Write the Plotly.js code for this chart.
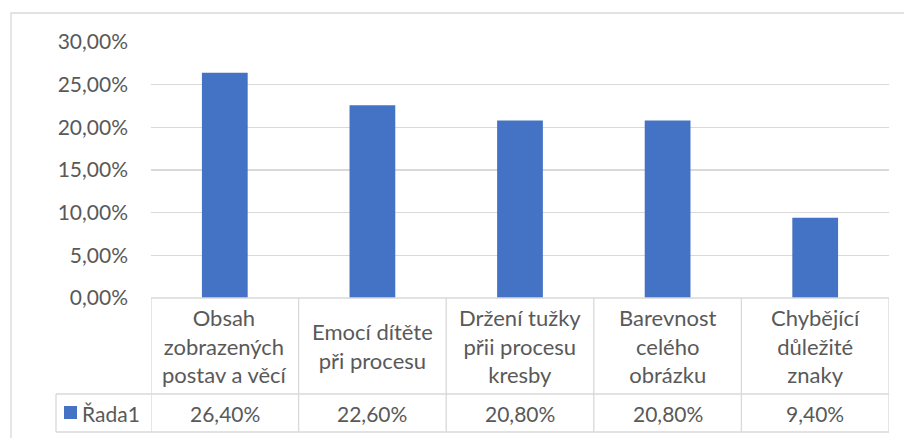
<!DOCTYPE html>
<html>
<head>
<meta charset="utf-8">
<script src="https://cdn.plot.ly/plotly-3.0.1.min.js"></script>
<style>html,body{margin:0;padding:0;background:#fff;}#chart{width:904px;height:438px;}</style>
</head>
<body>
<div id="chart"></div>
<script>
const categories = [
  "Obsah<br>zobrazených<br>postav a věcí",
  "Emocí dítěte<br>při procesu",
  "Držení tužky<br>přii procesu<br>kresby",
  "Barevnost<br>celého<br>obrázku",
  "Chybějící<br>důležité<br>znaky"
];
const seriesName = "Řada1";
const values = [0.264, 0.226, 0.208, 0.208, 0.094];
const yTicks = [0, 0.05, 0.10, 0.15, 0.20, 0.25, 0.30];

const fmt = v => (v * 100).toFixed(2).replace('.', ',') + '%';
const idx = categories.map((_, i) => i);

const W = 904, H = 438;
const mL = 151, mR = 15, mT = 42, mB = 140;
const pw = W - mL - mR, ph = H - mT - mB;
const px = x => (x - mL) / pw;          // pixel x -> paper
const py = y => (H - mB - y) / ph;      // pixel y -> paper

const lineCol = '#d9d9d9';
const textCol = '#595959';
const fontFam = 'Lato, "Open Sans", sans-serif';

const yHeaderBottom = py(394);
const yTableBottom = py(432);

const shapes = [];
shapes.push({type:'rect', xref:'paper', yref:'paper', x0:px(11), x1:px(910), y0:py(445), y1:py(13), line:{color:lineCol, width:1.3}, fillcolor:'rgba(0,0,0,0)', layer:'below'});
for (let i = 0; i <= categories.length; i++) {
  shapes.push({type:'line', xref:'x', yref:'paper', x0:i-0.5, x1:i-0.5, y0:0, y1:yTableBottom, line:{color:lineCol, width:1.3}});
}
shapes.push({type:'line', xref:'paper', yref:'paper', x0:0, x1:1, y0:0, y1:0, line:{color:lineCol, width:1.3}});
shapes.push({type:'line', xref:'paper', yref:'paper', x0:px(56), x1:1, y0:yHeaderBottom, y1:yHeaderBottom, line:{color:lineCol, width:1.3}});
shapes.push({type:'line', xref:'paper', yref:'paper', x0:px(56), x1:1, y0:yTableBottom, y1:yTableBottom, line:{color:lineCol, width:1.3}});
shapes.push({type:'line', xref:'paper', yref:'paper', x0:px(56), x1:px(56), y0:yHeaderBottom, y1:yTableBottom, line:{color:lineCol, width:1.3}});
shapes.push({type:'rect', xref:'paper', yref:'paper', x0:px(64), x1:px(77), y0:py(419), y1:py(406), line:{width:0}, fillcolor:'#4472C4'});

const annotations = [];
categories.forEach((c, i) => {
  annotations.push({xref:'x', yref:'paper', x:i, y:(0 + yHeaderBottom)/2, text:c, showarrow:false, xanchor:'center', yanchor:'middle', align:'center', font:{family:fontFam, size:22, color:textCol}});
  annotations.push({xref:'x', yref:'paper', x:i, y:(yHeaderBottom + yTableBottom)/2, text:fmt(values[i]), showarrow:false, xanchor:'center', yanchor:'middle', font:{family:fontFam, size:21, color:textCol}});
});
annotations.push({xref:'paper', yref:'paper', x:px(80), y:(yHeaderBottom + yTableBottom)/2, text:seriesName, showarrow:false, xanchor:'left', yanchor:'middle', font:{family:fontFam, size:21, color:textCol}});

const trace = {
  type:'bar', x: idx, y: values, name: seriesName,
  marker:{color:'#4472C4'}, hoverinfo:'none'
};

const layout = {
  width: W, height: H,
  margin:{l:mL, r:mR, t:mT, b:mB, pad:0},
  paper_bgcolor:'#fff', plot_bgcolor:'#fff',
  separators: ', ',
  showlegend:false,
  bargap: 0.69,
  xaxis:{range:[-0.5, categories.length-0.5], showticklabels:false, showgrid:false, zeroline:false, showline:false, ticks:'', fixedrange:true},
  yaxis:{range:[0, 0.30], tickvals:yTicks, ticktext:yTicks.map(fmt), showgrid:true, gridcolor:lineCol, gridwidth:1.3, zeroline:false, showline:false, ticks:'', ticklabelstandoff:22, tickfont:{family:fontFam, size:21, color:textCol}},
  shapes, annotations
};

Plotly.newPlot('chart', [trace], layout, {displayModeBar:false, staticPlot:true});
</script>
</body>
</html>
